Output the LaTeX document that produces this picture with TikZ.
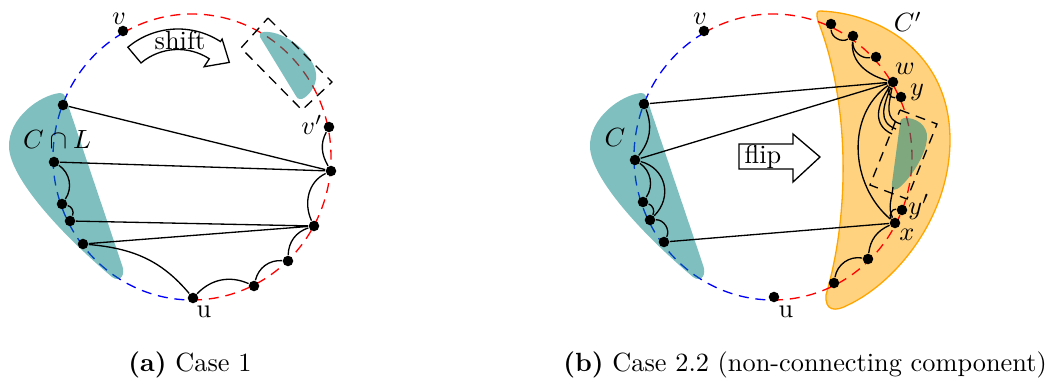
\documentclass[tikz,border=0pt]{standalone}
\usepackage{tikz}
\usetikzlibrary{arrows.meta,positioning,calc}
\definecolor{sunny}{RGB}{255,165,0}
\tikzset{
  vtx/.style={circle,fill=black,inner sep=0pt,minimum size=4pt},
  comp/.style={fill=teal,fill opacity=0.5},
  crescent/.style={fill=sunny,fill opacity=0.5,draw=sunny},
  lside/.style={blue,dash pattern=on 3.8pt off 2.6pt},
  rside/.style={red,dash pattern=on 3.8pt off 2.6pt},
  frame/.style={dash pattern=on 3.8pt off 2.6pt},
  bigarrow/.style={draw,fill=white},
  tag/.style={inner sep=1pt},
}
\begin{document}
\begin{tikzpicture}[x=0.38pt,y=0.38pt,line width=0.5pt]
  \useasboundingbox (0,0) rectangle (1049,383);

  % (a) Case 1
  \coordinate (O1) at (192,226);
  \draw[lside] ([shift={(119.5:139 and 143)}]O1) arc[start angle=119.5,end angle=270,x radius=139,y radius=143];
  \draw[rside] ([shift={(-90:139 and 143)}]O1) arc[start angle=-90,end angle=119.5,x radius=139,y radius=143];
  \fill[comp] (60,290) .. controls (40,288) and (8,265) .. (9,236) .. controls (10,205) and (60,150) .. (112,106)
    .. controls (120,100) and (126,108) .. (122,118) -- (66,284) .. controls (64,290) and (62,290) .. (60,290) -- cycle;
  \fill[comp] (264,351) .. controls (286,353) and (319,325) .. (316,304) .. controls (315,294) and (305,283) .. (300,284)
    .. controls (298,284) and (297,285) .. (296,287) -- (260,346) .. controls (259,349) and (261,351) .. (264,351) -- cycle;
  \draw[frame] (268,365) -- (332,301) -- (302,273) -- (241,335) -- cycle;

  \node[vtx] (v1) at (123,352) {};
  \node[vtx] (a1) at (63,278) {};
  \node[vtx] (a2) at (54,221) {};
  \node[vtx] (a3) at (62,179) {};
  \node[vtx] (a4) at (70,162) {};
  \node[vtx] (a5) at (83,139) {};
  \node[vtx] (u1) at (193,85) {};
  \node[vtx] (b1) at (254,97) {};
  \node[vtx] (b2) at (288,122) {};
  \node[vtx] (b3) at (314,157) {};
  \node[vtx] (b4) at (331,212) {};
  \node[vtx] (vp1) at (329,256) {};

  \draw (a1) -- (b4) (a2) -- (b4) (a4) -- (b3) (a5) -- (b3);
  \draw (a2) to[bend left=45] (a3);
  \draw (a3) to[bend left=50] (a4);
  \draw (a5) to[out=-5,in=130] (u1);
  \draw (u1) to[bend left=35] (b1);
  \draw (b1) to[bend left=40] (b2);
  \draw (b2) to[bend left=35] (b3);
  \draw (b3) to[out=115,in=205] (b4);
  \draw (b4) to[out=120,in=242] (vp1);

  \node[tag] (lv1) at (119,364) {$v$};
  \node[tag] (lvp1) at (312,258) {$v'$};
  \node[tag] (lu1) at (204,71) {u};
  \node[tag] (lC1) at (57,243) {$C\cap L$};

  % shift arrow
  \coordinate (S) at (178,276);
  \draw[bigarrow] ([shift={(130:78)}]S) arc[start angle=130,end angle=57,radius=78]
    -- ([shift={(57:81)}]S) -- ([shift={(41:68)}]S) -- ([shift={(57:48)}]S) -- ([shift={(57:57.5)}]S)
    arc[start angle=57,end angle=130,radius=57.5] -- cycle;
  \node[tag] (shift) at (180,343) {shift};

  % (b) Case 2.2
  \coordinate (O2) at (773,226);
  \filldraw[crescent] (820,372) .. controls (880,370) and (950,330) .. (950,243) .. controls (950,165) and (895,100) .. (848,78)
    .. controls (835,71) and (825,72) .. (826,88) .. controls (850,170) and (850,280) .. (818,362)
    .. controls (816,370) and (817,372) .. (820,372) -- cycle;
  \draw[lside] ([shift={(119.5:139 and 143)}]O2) arc[start angle=119.5,end angle=270,x radius=139,y radius=143];
  \draw[rside] ([shift={(-90:139 and 143)}]O2) arc[start angle=-90,end angle=119.5,x radius=139,y radius=143];
  \fill[comp,shift={(581,0)}] (60,290) .. controls (40,288) and (8,265) .. (9,236) .. controls (10,205) and (60,150) .. (112,106)
    .. controls (120,100) and (126,108) .. (122,118) -- (66,284) .. controls (64,290) and (62,290) .. (60,290) -- cycle;
  \fill[comp] (904,265) .. controls (915,266) and (928,258) .. (927,245) .. controls (926,225) and (905,198) .. (897,194)
    .. controls (893,192) and (891,195) .. (892,200) -- (900,259) .. controls (900,263) and (902,265) .. (904,265) -- cycle;
  \draw[frame] (900,273) -- (937,259) -- (907,184) -- (870,198) -- cycle;

  \node[vtx] (v2) at (704,352) {};
  \node[vtx] (u2) at (774,86) {};
  \node[vtx] (c1) at (644,279) {};
  \node[vtx] (c2) at (635,223) {};
  \node[vtx] (c3) at (643,181) {};
  \node[vtx] (c4) at (650,163) {};
  \node[vtx] (c5) at (664,141) {};
  \node[vtx] (r1) at (831,359) {};
  \node[vtx] (r2) at (853,347) {};
  \node[vtx] (r3) at (876,326) {};
  \node[vtx] (w) at (893,301) {};
  \node[vtx] (y) at (901,286) {};
  \node[vtx] (yp) at (902,173) {};
  \node[vtx] (x) at (895,160) {};
  \node[vtx] (r8) at (868,124) {};
  \node[vtx] (r9) at (834,100) {};
  \coordinate (e1) at (892,249);
  \coordinate (e2) at (896,254);
  \coordinate (e3) at (901,259);
  \coordinate (f1) at (893,196);

  \draw (c1) -- (w) (c2) -- (w) (c5) -- (x);
  \draw (c1) to[bend left=30] (c2);
  \draw (c2) to[bend left=45] (c3);
  \draw (c2) to[out=-15,in=45,looseness=1.2] (c4);
  \draw (c3) to[bend left=50] (c4);
  \draw (c4) to[bend left=60] (c5);
  \draw (r1) to[bend right=60] (r2);
  \draw (r2) to[bend right=50] (r3);
  \draw (r2) to[out=-95,in=165] (w);
  \draw (w) to[bend right=70] (y);
  \draw (w) to[out=-145,in=140] (x);
  \draw (w) to[out=-125,in=155,looseness=1.2] (e1);
  \draw (w) to[out=-112,in=160,looseness=1.2] (e2);
  \draw (w) to[out=-100,in=165,looseness=1.2] (e3);
  \draw (x) to[out=115,in=-95] (f1);
  \draw (x) to[bend left=70] (yp);
  \draw (x) to[bend right=30] (r8);
  \draw (r8) to[bend right=45] (r9);

  \node[tag] (lv2) at (700,364) {$v$};
  \node[tag] (lu2) at (786,71) {u};
  \node[tag] (lC2) at (615,245) {$C$};
  \node[tag] (lCp) at (908,361) {$C'$};
  \node[tag] (lw) at (905,314) {$w$};
  \node[tag] (ly) at (917,291) {$y$};
  \node[tag] (lyp) at (919,176) {$y'$};
  \node[tag] (lx) at (907,148) {$x$};

  % flip arrow
  \draw[bigarrow] (739,239) -- (793,239) -- (793,249) -- (820,226) -- (793,201) -- (793,214) -- (739,214) -- cycle;
  \node[tag] (flip) at (763,226) {flip};

  % captions
  \node (capa) at (190,18) {\textbf{(a)} Case 1};
  \node (capb) at (805,18) {\textbf{(b)} Case 2.2 (non-connecting component)};
\end{tikzpicture}
\end{document}
